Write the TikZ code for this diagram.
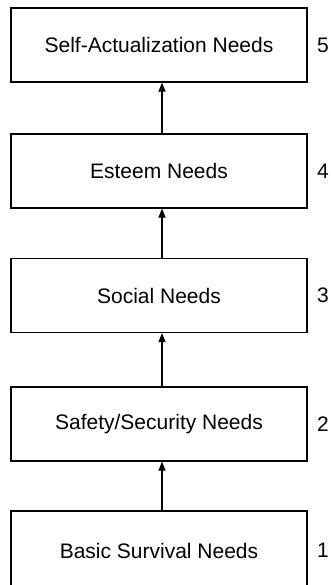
\documentclass[tikz,border=0pt]{standalone}
\usepackage{fontspec}
\setmainfont{Liberation Sans}
\usetikzlibrary{arrows.meta}
\begin{document}
\begin{tikzpicture}[x=1pt,y=-1pt,
  needbox/.style={draw, line width=1.2pt, minimum width=296pt, minimum height=74pt, inner sep=0pt, font=\fontsize{21}{25}\selectfont},
  lvl/.style={font=\fontsize{21}{25}\selectfont, inner sep=0pt},
  up/.style={-{Triangle[length=9pt,width=7pt]}, line width=1.1pt}]
\useasboundingbox (0,0) rectangle (330,585);
\node[needbox] (n5) at (159,45) {Self-Actualization Needs};
\node[needbox] (n4) at (159,171) {Esteem Needs};
\node[needbox] (n3) at (159,295.5) {Social Needs};
\node[needbox] (n2) at (159,424) {Safety/Security Needs};
\node[needbox, minimum height=80pt] (n1) at (159,551) {Basic Survival Needs};
\node[lvl] (l5) at (323,45) {5};
\node[lvl] (l4) at (323,171) {4};
\node[lvl] (l3) at (323,295.5) {3};
\node[lvl] (l2) at (323,424) {2};
\node[lvl] (l1) at (323,550) {1};
\draw[up] ([xshift=3pt]n1.north) -- ([xshift=3pt]n2.south);
\draw[up] ([xshift=3pt]n2.north) -- ([xshift=3pt]n3.south);
\draw[up] ([xshift=3pt]n3.north) -- ([xshift=3pt]n4.south);
\draw[up] ([xshift=3pt]n4.north) -- ([xshift=3pt]n5.south);
\end{tikzpicture}
\end{document}
